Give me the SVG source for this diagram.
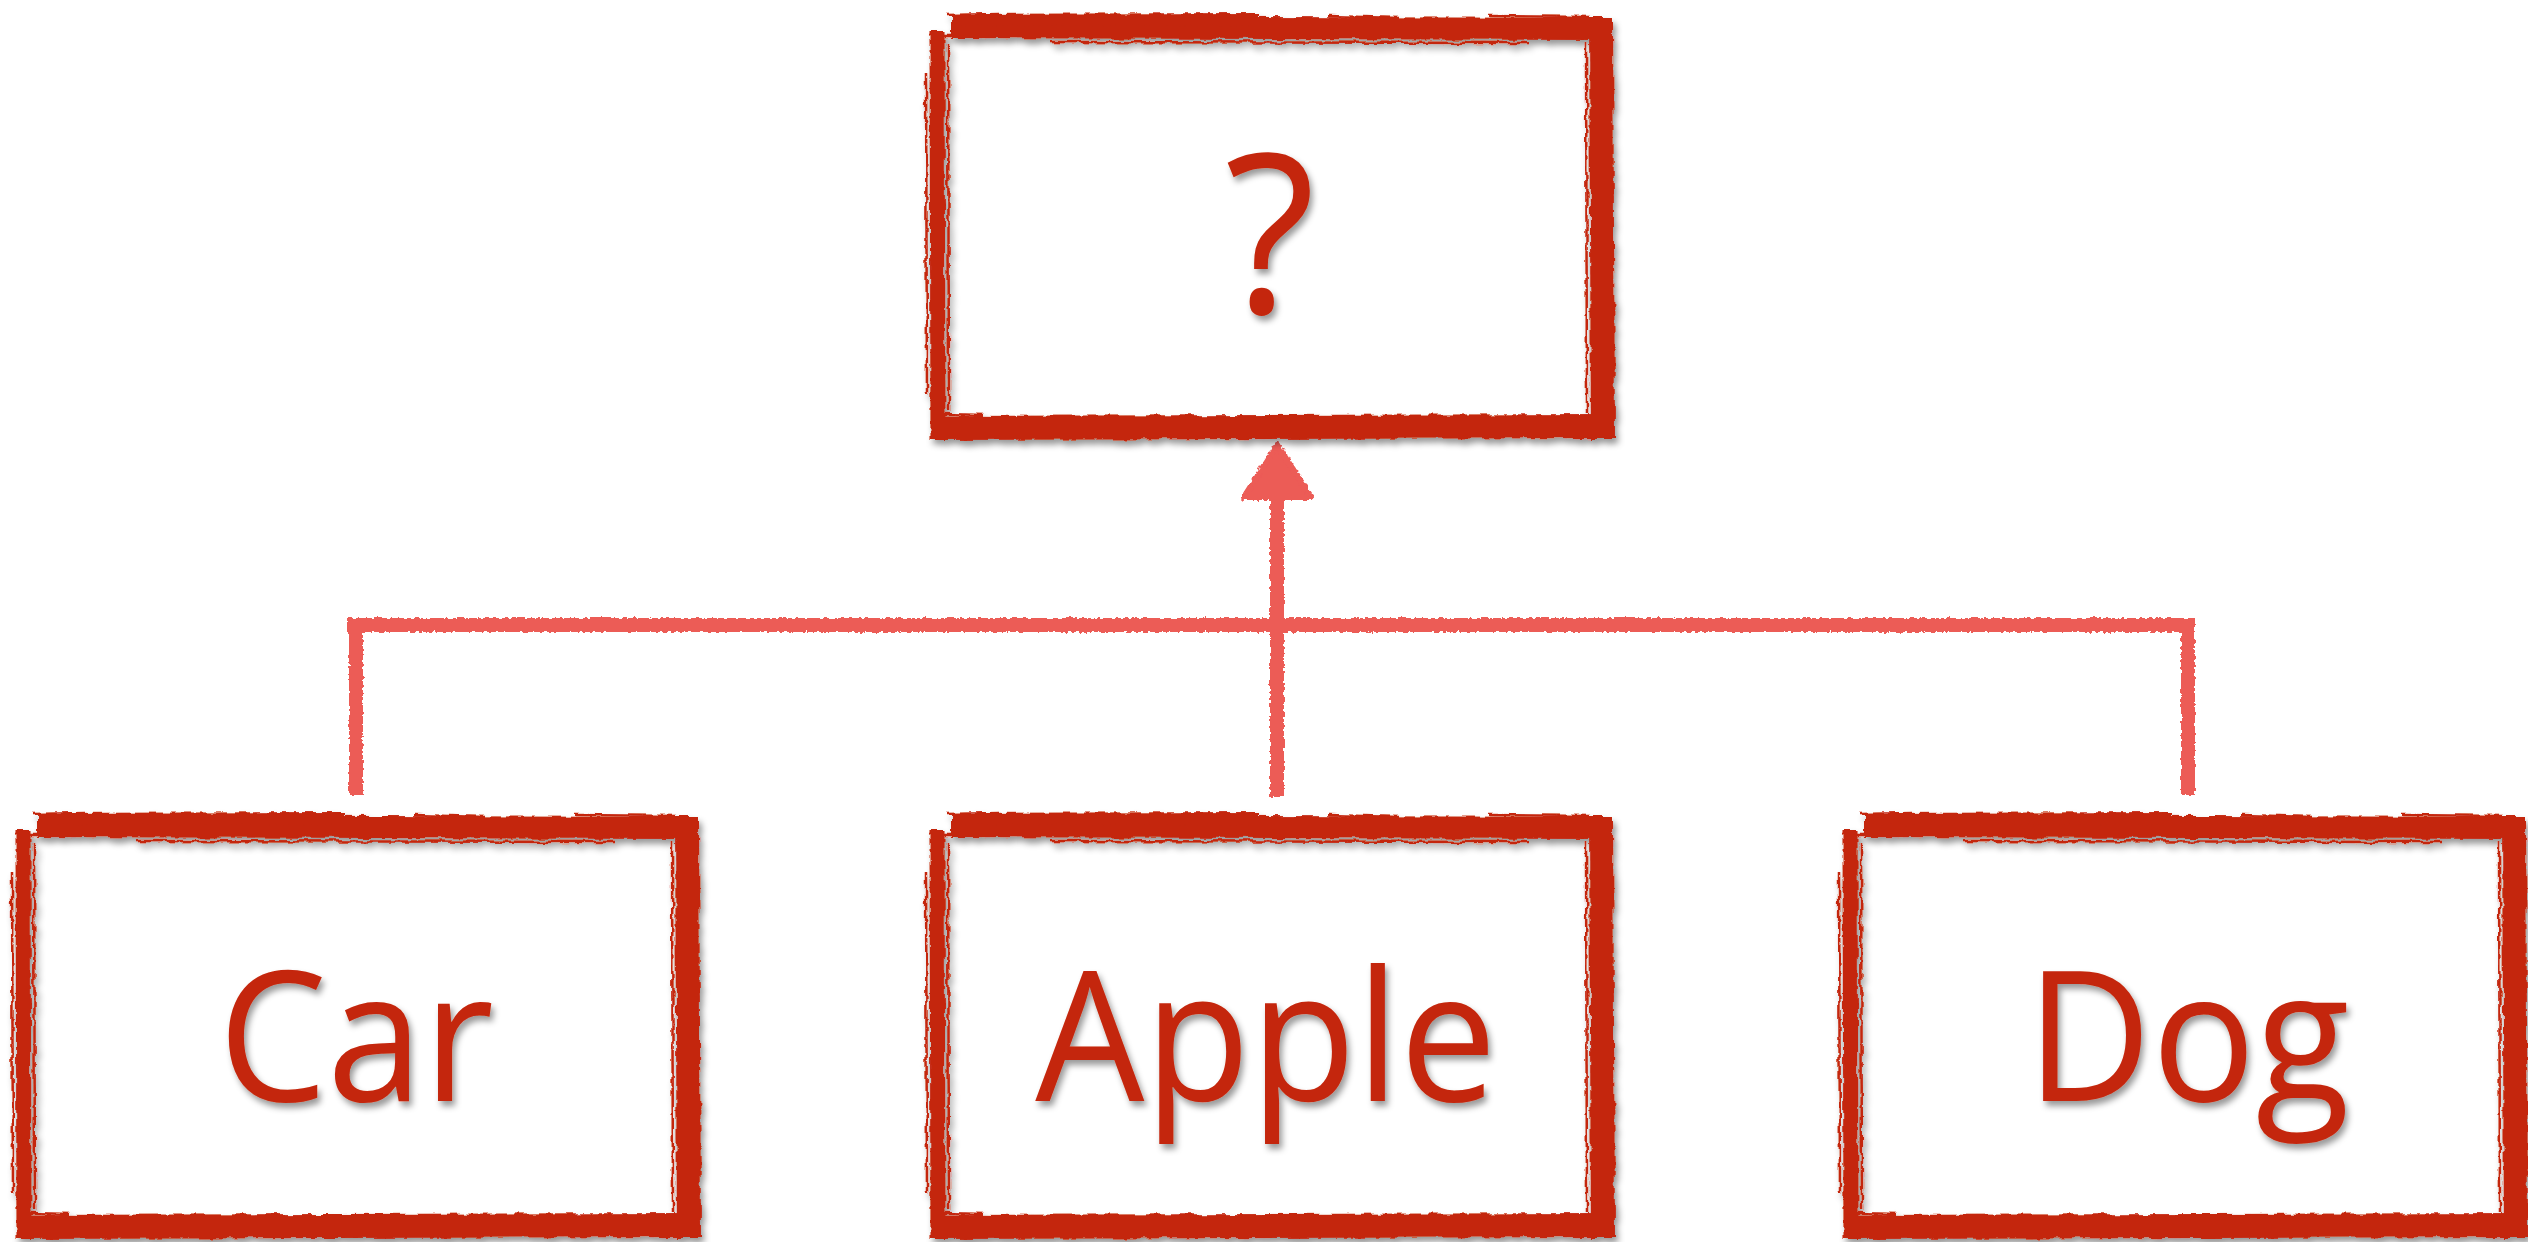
<svg xmlns="http://www.w3.org/2000/svg" xmlns:xlink="http://www.w3.org/1999/xlink" width="2528" height="1242" viewBox="0 0 2528 1242">
<style>
.frm{stroke:#C4260A;fill:none;stroke-linecap:butt}
.thin{stroke:#C4260A;fill:none;stroke-width:2.5}
.lbl{font-family:"Open Sans","Noto Sans","Liberation Sans",sans-serif;fill:#C4260A;text-anchor:middle}
.con{stroke:#EC5B57;stroke-width:14;fill:none;stroke-linecap:butt}
</style>
<defs>
<filter id="rough" x="-3%" y="-3%" width="106%" height="106%">
<feTurbulence type="fractalNoise" baseFrequency="0.09" numOctaves="2" seed="4" result="n"/>
<feDisplacementMap in="SourceGraphic" in2="n" scale="6" xChannelSelector="R" yChannelSelector="G"/>
</filter>
<filter id="chalk" x="-3%" y="-3%" width="106%" height="106%">
<feTurbulence type="fractalNoise" baseFrequency="0.25" numOctaves="2" seed="7" result="n"/>
<feDisplacementMap in="SourceGraphic" in2="n" scale="5" xChannelSelector="R" yChannelSelector="G"/>
</filter>
<filter id="shadow" x="-5%" y="-5%" width="110%" height="115%">
<feDropShadow dx="3" dy="5" stdDeviation="3" flood-color="#000" flood-opacity="0.4"/>
</filter>
<g id="frame" filter="url(#rough)">
<line class="frm" x1="22" y1="14" x2="677" y2="16" stroke-width="22"/>
<line class="frm" x1="22" y1="7" x2="330" y2="6" stroke-width="12"/>
<line class="frm" x1="672" y1="4" x2="674" y2="426" stroke-width="24"/>
<line class="frm" x1="3" y1="415" x2="684" y2="413" stroke-width="24"/>
<line class="frm" x1="8" y1="18" x2="9" y2="427" stroke-width="15"/>
<line class="thin" x1="0" y1="22" x2="30" y2="22"/>
<line class="thin" x1="18" y1="2" x2="70" y2="1" stroke-width="4"/>
<line class="thin" x1="400" y1="3" x2="470" y2="5" stroke-width="4"/>
<line class="thin" x1="560" y1="3" x2="660" y2="4" stroke-width="3"/>
<line class="thin" x1="19" y1="30" x2="20" y2="398"/>
<line class="thin" x1="14" y1="401" x2="55" y2="402"/>
<line class="thin" x1="657" y1="30" x2="658" y2="400"/>
<line class="thin" x1="120" y1="29" x2="600" y2="30" stroke-width="2"/>
<line class="thin" x1="-3" y1="60" x2="-2" y2="380" stroke-width="2"/>
</g>
</defs>
<rect width="2528" height="1242" fill="#fff"/>
<g id="connectors" filter="url(#chalk)">
<path class="con" d="M347 625 H2195"/>
<path class="con" d="M356 619 V795"/>
<path class="con" d="M2188 619 V795"/>
<path class="con" d="M1277 797 V490"/>
<polygon points="1277,445 1244,497 1311,497" fill="#EC5B57" stroke="#EC5B57" stroke-width="6" stroke-linejoin="round"/>
</g>
<g id="node-top" filter="url(#shadow)">
<use xlink:href="#frame" x="929" y="13"/>
<text class="lbl" font-size="222" transform="translate(1270,313) scale(0.95,1)">?</text>
</g>
<g id="node-car" filter="url(#shadow)">
<use xlink:href="#frame" x="15" y="812"/>
<text class="lbl" font-size="182" transform="translate(356,1101) scale(0.95,1)">Car</text>
</g>
<g id="node-apple" filter="url(#shadow)">
<use xlink:href="#frame" x="929" y="812"/>
<text class="lbl" font-size="182" transform="translate(1266,1101) scale(0.95,1)">Apple</text>
</g>
<g id="node-dog" filter="url(#shadow)">
<use xlink:href="#frame" x="1842" y="812"/>
<text class="lbl" font-size="182" transform="translate(2188,1101) scale(0.95,1)">Dog</text>
</g>
</svg>
